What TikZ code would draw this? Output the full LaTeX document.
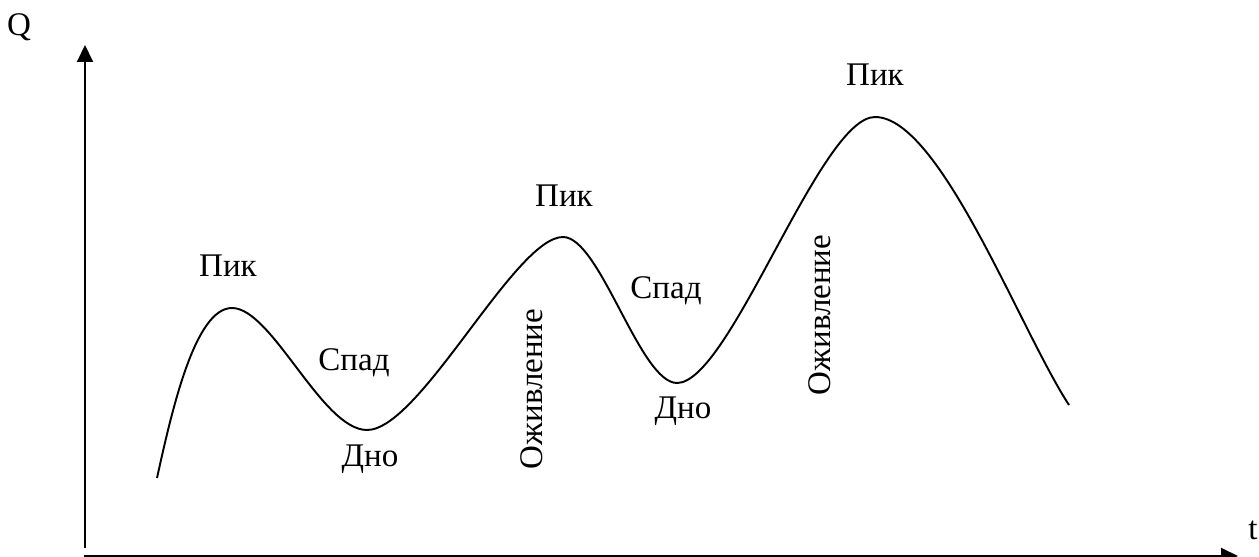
\documentclass[tikz,border=0pt]{standalone}
\usepackage{fontspec}
\setmainfont{Liberation Serif}
\usetikzlibrary{arrows.meta}
\begin{document}
\begin{tikzpicture}[
    x=0.02cm, y=-0.02cm,
    axis/.style={-{Triangle[length=0.34cm, width=0.32cm]}, line width=1.1pt},
    wave/.style={line width=1.1pt},
    phase/.style={inner sep=0pt, font=\fontsize{18.8}{22}\selectfont}
]
    \useasboundingbox (0, 0) rectangle (1259, 557);

    % Oси
    \coordinate (origin) at (85, 548);
    \coordinate (qtop) at (85, 45);
    \coordinate (tstart) at (84, 556);
    \coordinate (tend) at (1238, 556);
    \draw[axis] (origin) -- (qtop);
    \draw[axis] (tstart) -- (tend);
    \node[phase] (qlab) at (19, 27) {Q};
    \node[phase] (tlab) at (1253, 530) {t};

    % Волна
    \draw[wave] (157, 478)
        .. controls (172, 410) and (195, 308) .. (232, 308)
        .. controls (272, 308) and (322, 430) .. (367, 430)
        .. controls (420, 430) and (515, 237) .. (563, 237)
        .. controls (600, 237) and (640, 383) .. (677, 383)
        .. controls (730, 383) and (820, 117) .. (875, 117)
        .. controls (940, 117) and (1020, 330) .. (1069, 405);

    % Фазы
    \node[phase] (pik1) at (228, 266) {Пик};
    \node[phase] (spad1) at (354, 363) {Спад};
    \node[phase] (dno1) at (370, 459) {Дно};
    \node[phase, rotate=90] (ozh1) at (532, 389) {Оживление};
    \node[phase] (pik2) at (564, 196) {Пик};
    \node[phase] (spad2) at (666, 291) {Спад};
    \node[phase] (dno2) at (683, 411) {Дно};
    \node[phase, rotate=90] (ozh2) at (820, 315) {Оживление};
    \node[phase] (pik3) at (875, 75) {Пик};

\end{tikzpicture}
\end{document}
